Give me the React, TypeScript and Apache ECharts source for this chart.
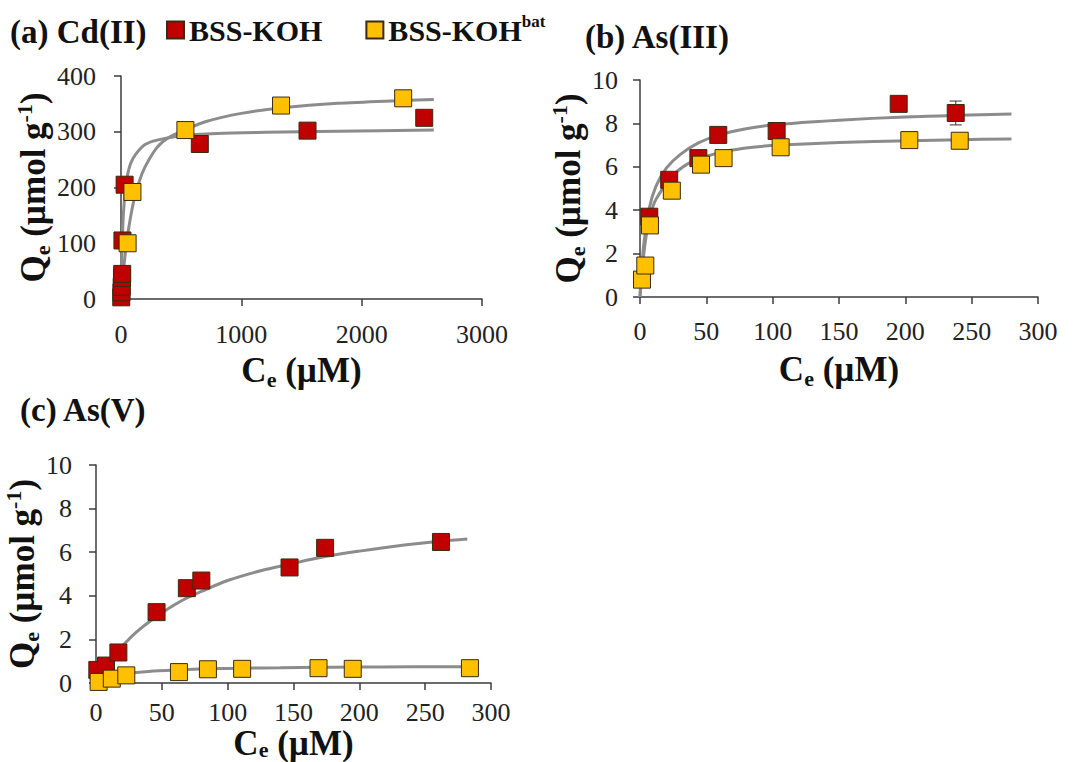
import React, { useEffect, useRef } from "react";
import * as echarts from "echarts";

// ---------- Data ----------
// (a) Cd(II)
const aRedX = [2, 4, 6, 8, 10, 12, 30, 655, 1550, 2520];
const aRedY = [3, 12, 22, 38, 45, 105, 205, 278, 302, 325];
const aYelX = [55, 95, 535, 1330, 2345];
const aYelY = [100, 192, 303, 347, 360];
const aRedFitX = [0, 5, 10, 20, 35, 50, 80, 120, 200, 300, 500, 800, 1200, 1800, 2600];
const aRedFitY = [0, 60, 102, 152, 195, 218, 243, 259, 277, 285, 293, 297, 299, 301, 303];
const aYelFitX = [0, 20, 50, 100, 150, 200, 300, 400, 540, 700, 1000, 1340, 1800, 2350, 2600];
const aYelFitY = [0, 50, 107, 170, 210, 237, 272, 290, 304, 318, 333, 343, 351, 356, 358];

// (b) As(III)
const bRedX = [7, 22, 44, 59, 103, 195, 238];
const bRedY = [3.7, 5.4, 6.4, 7.47, 7.65, 8.9, 8.48];
const bRedErr = [0, 0, 0, 0, 0, 0, 0.55];
const bYelX = [1.5, 4, 7.5, 24, 46, 63, 106, 203, 241];
const bYelY = [0.8, 1.45, 3.3, 4.9, 6.1, 6.4, 6.9, 7.23, 7.2];
const bYelErr = [0, 0, 0, 0, 0, 0, 0, 0.12, 0.1];
const bRedFitX = [0, 1, 3, 7, 12, 20, 30, 44, 59, 80, 103, 150, 200, 240, 280];
const bRedFitY = [0, 1.1, 2.5, 4.1, 5.1, 5.95, 6.55, 7.1, 7.45, 7.75, 7.95, 8.15, 8.3, 8.37, 8.43];
const bYelFitX = [0, 1.5, 4, 7.5, 12, 24, 35, 46, 63, 85, 106, 150, 203, 241, 280];
const bYelFitY = [0, 1.15, 2.55, 3.7, 4.5, 5.55, 6.1, 6.4, 6.7, 6.9, 7.0, 7.12, 7.2, 7.25, 7.28];

// (c) As(V)
const cRedX = [1, 7.6, 17, 46, 69, 80, 147, 174, 262];
const cRedY = [0.6, 0.8, 1.4, 3.25, 4.35, 4.7, 5.3, 6.2, 6.47];
const cRedErr = [0, 0, 0, 0, 0, 0, 0, 0, 0.3];
const cYelX = [2, 12, 23, 63, 85, 111, 169, 195, 284];
const cYelY = [0.05, 0.2, 0.35, 0.5, 0.63, 0.65, 0.68, 0.65, 0.68];
const cRedFitX = [10, 17, 30, 46, 60, 69, 80, 100, 125, 147, 174, 200, 230, 262, 282];
const cRedFitY = [1.0, 1.5, 2.3, 3.05, 3.6, 3.9, 4.2, 4.7, 5.15, 5.45, 5.8, 6.05, 6.3, 6.5, 6.6];
const cYelFitX = [2, 12, 23, 40, 63, 85, 111, 140, 169, 195, 240, 284];
const cYelFitY = [0.07, 0.3, 0.43, 0.53, 0.6, 0.65, 0.68, 0.7, 0.72, 0.73, 0.74, 0.75];

const aXTicks = { min: 0, max: 3000, interval: 1000 };
const aYTicks = { min: 0, max: 400, interval: 100 };
const bXTicks = { min: 0, max: 300, interval: 50 };
const bYTicks = { min: 0, max: 10, interval: 2 };

const zip = (xs: number[], ys: number[]) => xs.map((x, i) => [x, ys[i]]);
const zip3 = (xs: number[], ys: number[], es: number[]) =>
  xs.map((x, i) => [x, ys[i], es[i]]).filter((d) => d[2] > 0);

const SERIF = "Liberation Serif";
const RED = "#C00000";
const YEL = "#FFC000";
const BORDER = "#3a2a10";
const FIT = "#8c8c8c";
const AX = "#3c3c3c";

const yName = "{b|Q}{sub|e}{b| (µmol g}{sup|-1}{b|)}";
const xName = "{b|C}{sub|e}{b| (µM)}";
const mkRich = (lh: number) => ({
  b: { fontFamily: SERIF, fontWeight: "bold", fontSize: 35, color: "#111", lineHeight: lh },
  sub: { fontFamily: SERIF, fontWeight: "bold", fontSize: 22, color: "#111", verticalAlign: "bottom", lineHeight: lh },
  sup: { fontFamily: SERIF, fontWeight: "bold", fontSize: 22, color: "#111", verticalAlign: "top", lineHeight: lh },
});

function axisCommon(margin: number) {
  return {
    axisLine: { show: true, lineStyle: { color: AX, width: 1.5 } },
    axisTick: { show: true, length: 7, inside: false, lineStyle: { color: AX, width: 1.5 } },
    axisLabel: { fontFamily: SERIF, fontSize: 26, color: "#222", margin, formatter: (v: number) => String(v) },
    splitLine: { show: false },
  };
}
function mkX(grid: number, t: any, gap: number, margin: number, lh = 40) {
  return {
    type: "value",
    gridIndex: grid,
    ...t,
    name: xName,
    nameLocation: "middle",
    nameGap: gap,
    nameTextStyle: { rich: mkRich(lh) },
    ...axisCommon(margin),
  };
}
function mkY(grid: number, t: any, gap: number, margin: number) {
  return {
    type: "value",
    gridIndex: grid,
    ...t,
    name: yName,
    nameLocation: "middle",
    nameGap: gap,
    nameTextStyle: { rich: mkRich(40) },
    ...axisCommon(margin),
  };
}

function scatter(name: string, grid: number, data: number[][], color: string) {
  return {
    type: "scatter",
    name,
    xAxisIndex: grid,
    yAxisIndex: grid,
    data,
    symbol: "rect",
    symbolSize: 17,
    z: 5,
    itemStyle: { color, borderColor: BORDER, borderWidth: 1, opacity: 1 },
  };
}
function fit(grid: number, data: number[][]) {
  return {
    type: "line",
    xAxisIndex: grid,
    yAxisIndex: grid,
    data,
    smooth: 0.3,
    showSymbol: false,
    symbol: "none",
    z: 3,
    lineStyle: { color: FIT, width: 3 },
    silent: true,
  };
}
function errBars(grid: number, data: number[][]) {
  return {
    type: "custom",
    xAxisIndex: grid,
    yAxisIndex: grid,
    data,
    z: 4,
    silent: true,
    renderItem: (params: any, api: any) => {
      const x = api.value(0);
      const y = api.value(1);
      const e = api.value(2);
      const t = api.coord([x, y + e]);
      const b = api.coord([x, y - e]);
      const w = 6;
      const st = { stroke: "#333", lineWidth: 1 };
      return {
        type: "group",
        children: [
          { type: "line", shape: { x1: t[0], y1: t[1], x2: b[0], y2: b[1] }, style: st },
          { type: "line", shape: { x1: t[0] - w, y1: t[1], x2: t[0] + w, y2: t[1] }, style: st },
          { type: "line", shape: { x1: b[0] - w, y1: b[1], x2: b[0] + w, y2: b[1] }, style: st },
        ],
      };
    },
  };
}

export default function App() {
  const ref = useRef<HTMLDivElement>(null);
  useEffect(() => {
    if (!ref.current) return;
    const chart = echarts.init(ref.current, undefined, { renderer: "svg" });
    const titleStyle = { fontFamily: SERIF, fontWeight: "bold", fontSize: 33, color: "#111" };
    chart.setOption({
      animation: false,
      backgroundColor: "#ffffff",
      title: [
        { text: "(a) Cd(II)", left: 5, top: 10, textStyle: titleStyle },
        { text: "(b) As(III)", left: 580, top: 15, textStyle: titleStyle },
        { text: "(c) As(V)", left: 15, top: 388, textStyle: titleStyle },
      ],
      legend: {
        left: 161,
        top: 8,
        itemWidth: 17,
        itemHeight: 17,
        itemGap: 43,
        icon: "rect",
        data: ["BSS-KOH", "BSS-KOHbat"],
        formatter: (n: string) => (n === "BSS-KOHbat" ? "{t|BSS-KOH}{s|bat}" : "{t|BSS-KOH}"),
        textStyle: {
          rich: {
            t: { fontFamily: SERIF, fontWeight: "bold", fontSize: 30, color: "#111", lineHeight: 34 },
            s: { fontFamily: SERIF, fontWeight: "bold", fontSize: 17, color: "#111", verticalAlign: "top", lineHeight: 34 },
          },
        },
      },
      grid: [
        { left: 121, right: 597, top: 76, height: 223, outerBoundsMode: "none", containLabel: false },
        { left: 640, right: 41, top: 80, height: 217, outerBoundsMode: "none", containLabel: false },
        { left: 96, right: 588, top: 465, height: 218, outerBoundsMode: "none", containLabel: false },
      ],
      xAxis: [mkX(0, aXTicks, 51, 22), mkX(1, bXTicks, 52, 21), mkX(2, bXTicks, 37, 16, 34)],
      yAxis: [mkY(0, aYTicks, 62, 25), mkY(1, bYTicks, 39, 22), mkY(2, bYTicks, 50, 24)],
      series: [
        fit(0, zip(aRedFitX, aRedFitY)),
        fit(0, zip(aYelFitX, aYelFitY)),
        scatter("BSS-KOH", 0, zip(aRedX, aRedY), RED),
        scatter("BSS-KOHbat", 0, zip(aYelX, aYelY), YEL),

        fit(1, zip(bRedFitX, bRedFitY)),
        fit(1, zip(bYelFitX, bYelFitY)),
        errBars(1, zip3(bRedX, bRedY, bRedErr)),
        errBars(1, zip3(bYelX, bYelY, bYelErr)),
        scatter("BSS-KOH", 1, zip(bRedX, bRedY), RED),
        scatter("BSS-KOHbat", 1, zip(bYelX, bYelY), YEL),

        fit(2, zip(cRedFitX, cRedFitY)),
        fit(2, zip(cYelFitX, cYelFitY)),
        errBars(2, zip3(cRedX, cRedY, cRedErr)),
        scatter("BSS-KOH", 2, zip(cRedX, cRedY), RED),
        scatter("BSS-KOHbat", 2, zip(cYelX, cYelY), YEL),
      ],
    });
    return () => chart.dispose();
  }, []);
  return (
    <div
      ref={ref}
      style={{ position: "fixed", left: 0, top: 0, width: 1079, height: 762, background: "#fff" }}
    />
  );
}
